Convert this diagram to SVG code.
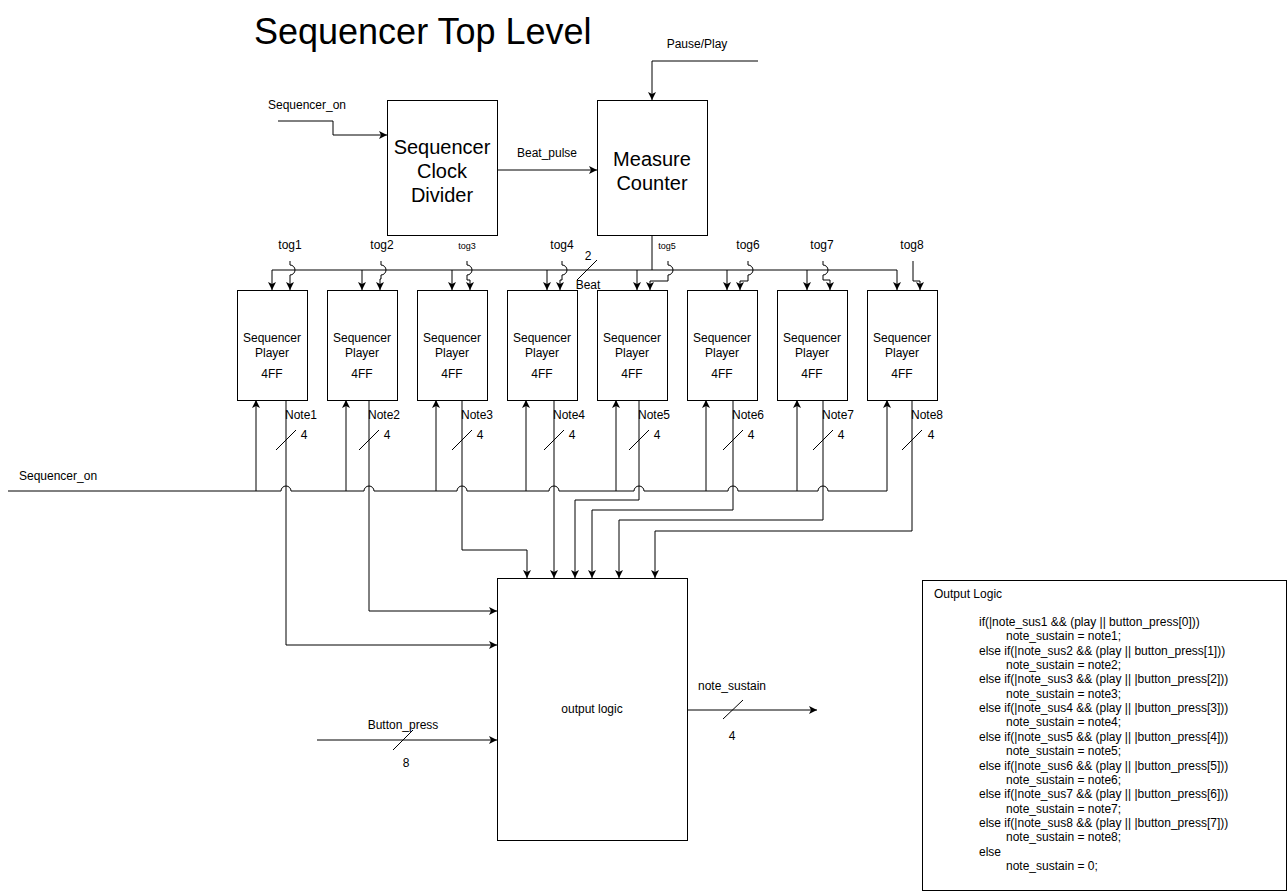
<svg xmlns="http://www.w3.org/2000/svg" width="1288" height="892" viewBox="0 0 1288 892">
<defs>
<marker id="arr" markerUnits="userSpaceOnUse" markerWidth="10" markerHeight="10" refX="8" refY="4" orient="auto">
<path d="M0,0 L8,4 L0,8 L2,4 Z" fill="#000"/>
</marker>
<style>
text{font-family:"Liberation Sans",Arial,sans-serif;fill:#000}
.box{fill:#fff;stroke:#000;stroke-width:1}
.w{fill:none;stroke:#000;stroke-width:1}
.a{fill:none;stroke:#000;stroke-width:1;marker-end:url(#arr)}
.s12{font-size:12px}
.s9{font-size:9px}
.mid{text-anchor:middle}
</style>
</defs>
<rect width="1288" height="892" fill="#fff"/>
<text x="254" y="44" style="font-size:36px">Sequencer Top Level</text>

<g id="connectors">
<path class="a" d="M278,121 H333 V135 H387"/>
<path class="a" d="M497,170 H597"/>
<path class="a" d="M758,61 H652 V100"/>
<path class="w" d="M652,235 V270"/>
<path class="w" d="M272,270 H897"/>
<path class="a" d="M272,270 V290"/>
<path class="a" d="M362,270 V290"/>
<path class="a" d="M452,270 V290"/>
<path class="a" d="M547,270 V290"/>
<path class="a" d="M637,270 V290"/>
<path class="a" d="M727,270 V290"/>
<path class="a" d="M807,270 V290"/>
<path class="a" d="M897,270 V290"/>
<path class="w" d="M577,280 L597,260"/>
<path class="a" d="M290,261 V265 A5,5 0 0 1 290,275 V290"/>
<path class="a" d="M381,261 V265 A5,5 0 0 1 381,275 V279 H380 V290"/>
<path class="a" d="M467,261 V265 A5,5 0 0 1 467,275 V280 H470 V290"/>
<path class="a" d="M562,261 V265 A5,5 0 0 1 562,275 V280 H560 V290"/>
<path class="a" d="M668,261 V265 A5,5 0 0 1 668,275 V281 H650 V290"/>
<path class="a" d="M748,261 V265 A5,5 0 0 1 748,275 V281 H740 V290"/>
<path class="a" d="M823,261 V265 A5,5 0 0 1 823,275 V280 H830 V290"/>
<path class="a" d="M913,261 V281 H920 V290"/>
<path class="w" d="M8,491 H281 A5,5 0 0 1 291,491 H364 A5,5 0 0 1 374,491 H457 A5,5 0 0 1 467,491 H549 A5,5 0 0 1 559,491 H634 A5,5 0 0 1 644,491 H728 A5,5 0 0 1 738,491 H818 A5,5 0 0 1 828,491 H887"/>
<path class="a" d="M256,491 V400"/>
<path class="a" d="M346,491 V400"/>
<path class="a" d="M436,491 V400"/>
<path class="a" d="M526,491 V400"/>
<path class="a" d="M616,491 V400"/>
<path class="a" d="M706,491 V400"/>
<path class="a" d="M797,491 V400"/>
<path class="a" d="M887,491 V400"/>
<path class="a" d="M286,400 V645 H497"/>
<path class="a" d="M369,400 V611 H497"/>
<path class="a" d="M462,400 V550 H527 V578"/>
<path class="a" d="M554,400 V578"/>
<path class="a" d="M639,400 V500 H575 V578"/>
<path class="a" d="M733,400 V510 H592 V578"/>
<path class="a" d="M823,400 V520 H619 V578"/>
<path class="a" d="M912,400 V531 H655 V578"/>
<path class="w" d="M276,450 L296,430 M359,450 L379,430 M452,450 L472,430 M544,450 L564,430 M629,450 L649,430 M723,450 L743,430 M813,450 L833,430 M902,450 L922,430"/>
<path class="a" d="M317,740 H497"/>
<path class="w" d="M393,750 L413,730"/>
<path class="a" d="M687,710 H817"/>
<path class="w" d="M723,719 L743,700"/>
</g>

<g id="labels">
<text class="s12" x="307" y="109" text-anchor="middle">Sequencer_on</text>
<text class="s12 mid" x="547" y="157">Beat_pulse</text>
<text class="s12 mid" x="697" y="48">Pause/Play</text>
<text class="s12 mid" x="290" y="249">tog1</text>
<text class="s12 mid" x="382" y="249">tog2</text>
<text class="s9 mid" x="467" y="249">tog3</text>
<text class="s12 mid" x="562" y="249">tog4</text>
<text class="s9 mid" x="667" y="249">tog5</text>
<text class="s12 mid" x="748" y="249">tog6</text>
<text class="s12 mid" x="822" y="249">tog7</text>
<text class="s12 mid" x="912" y="249">tog8</text>
<text class="s12 mid" x="588" y="260">2</text>
<text class="s12 mid" x="588" y="289">Beat</text>
<text class="s12" x="19" y="480">Sequencer_on</text>
<text class="s12" x="285" y="419">Note1</text>
<text class="s12" x="368" y="419">Note2</text>
<text class="s12" x="461" y="419">Note3</text>
<text class="s12" x="553" y="419">Note4</text>
<text class="s12" x="638" y="419">Note5</text>
<text class="s12" x="732" y="419">Note6</text>
<text class="s12" x="822" y="419">Note7</text>
<text class="s12" x="911" y="419">Note8</text>
<text class="s12 mid" x="304" y="439">4</text>
<text class="s12 mid" x="387" y="439">4</text>
<text class="s12 mid" x="480" y="439">4</text>
<text class="s12 mid" x="572" y="439">4</text>
<text class="s12 mid" x="657" y="439">4</text>
<text class="s12 mid" x="751" y="439">4</text>
<text class="s12 mid" x="841" y="439">4</text>
<text class="s12 mid" x="931" y="439">4</text>
<text class="s12 mid" x="403" y="729">Button_press</text>
<text class="s12 mid" x="406" y="767">8</text>
<text class="s12 mid" x="732" y="690">note_sustain</text>
<text class="s12 mid" x="732" y="740">4</text>
</g>

<g id="clock-divider">
<rect class="box" x="387.5" y="100.5" width="110" height="135"/>
<text x="442" y="154" class="mid" style="font-size:20px">Sequencer</text>
<text x="442" y="178" class="mid" style="font-size:20px">Clock</text>
<text x="442" y="202" class="mid" style="font-size:20px">Divider</text>
</g>
<g id="measure-counter">
<rect class="box" x="597.5" y="100.5" width="110" height="135"/>
<text x="652" y="166" class="mid" style="font-size:20px">Measure</text>
<text x="652" y="190" class="mid" style="font-size:20px">Counter</text>
</g>

<g id="player1"><rect class="box" x="237.5" y="290.5" width="70" height="110"/><text class="s12 mid" x="272" y="342">Sequencer</text><text class="s12 mid" x="272" y="357">Player</text><text class="s12 mid" x="272" y="378">4FF</text></g>
<g id="player2"><rect class="box" x="327.5" y="290.5" width="70" height="110"/><text class="s12 mid" x="362" y="342">Sequencer</text><text class="s12 mid" x="362" y="357">Player</text><text class="s12 mid" x="362" y="378">4FF</text></g>
<g id="player3"><rect class="box" x="417.5" y="290.5" width="70" height="110"/><text class="s12 mid" x="452" y="342">Sequencer</text><text class="s12 mid" x="452" y="357">Player</text><text class="s12 mid" x="452" y="378">4FF</text></g>
<g id="player4"><rect class="box" x="507.5" y="290.5" width="70" height="110"/><text class="s12 mid" x="542" y="342">Sequencer</text><text class="s12 mid" x="542" y="357">Player</text><text class="s12 mid" x="542" y="378">4FF</text></g>
<g id="player5"><rect class="box" x="597.5" y="290.5" width="70" height="110"/><text class="s12 mid" x="632" y="342">Sequencer</text><text class="s12 mid" x="632" y="357">Player</text><text class="s12 mid" x="632" y="378">4FF</text></g>
<g id="player6"><rect class="box" x="687.5" y="290.5" width="70" height="110"/><text class="s12 mid" x="722" y="342">Sequencer</text><text class="s12 mid" x="722" y="357">Player</text><text class="s12 mid" x="722" y="378">4FF</text></g>
<g id="player7"><rect class="box" x="777.5" y="290.5" width="70" height="110"/><text class="s12 mid" x="812" y="342">Sequencer</text><text class="s12 mid" x="812" y="357">Player</text><text class="s12 mid" x="812" y="378">4FF</text></g>
<g id="player8"><rect class="box" x="867.5" y="290.5" width="70" height="110"/><text class="s12 mid" x="902" y="342">Sequencer</text><text class="s12 mid" x="902" y="357">Player</text><text class="s12 mid" x="902" y="378">4FF</text></g>

<g id="output-logic">
<rect class="box" x="497.5" y="578.5" width="190" height="262"/>
<text class="s12 mid" x="592" y="713">output logic</text>
</g>

<g id="output-logic-note">
<rect class="box" x="922.5" y="580.5" width="364" height="310"/>
<text class="s12" x="934" y="598">Output Logic</text>
<g class="s12">
<text x="979" y="626">if(|note_sus1 &amp;&amp; (play || button_press[0]))</text>
<text x="1006" y="640">note_sustain = note1;</text>
<text x="979" y="655">else if(|note_sus2 &amp;&amp; (play || button_press[1]))</text>
<text x="1006" y="669">note_sustain = note2;</text>
<text x="979" y="683">else if(|note_sus3 &amp;&amp; (play || |button_press[2]))</text>
<text x="1006" y="698">note_sustain = note3;</text>
<text x="979" y="712">else if(|note_sus4 &amp;&amp; (play || |button_press[3]))</text>
<text x="1006" y="726">note_sustain = note4;</text>
<text x="979" y="741">else if(|note_sus5 &amp;&amp; (play || |button_press[4]))</text>
<text x="1006" y="755">note_sustain = note5;</text>
<text x="979" y="770">else if(|note_sus6 &amp;&amp; (play || |button_press[5]))</text>
<text x="1006" y="784">note_sustain = note6;</text>
<text x="979" y="798">else if(|note_sus7 &amp;&amp; (play || |button_press[6]))</text>
<text x="1006" y="813">note_sustain = note7;</text>
<text x="979" y="827">else if(|note_sus8 &amp;&amp; (play || |button_press[7]))</text>
<text x="1006" y="841">note_sustain = note8;</text>
<text x="979" y="856">else</text>
<text x="1006" y="870">note_sustain = 0;</text>
</g>
</g>
</svg>
